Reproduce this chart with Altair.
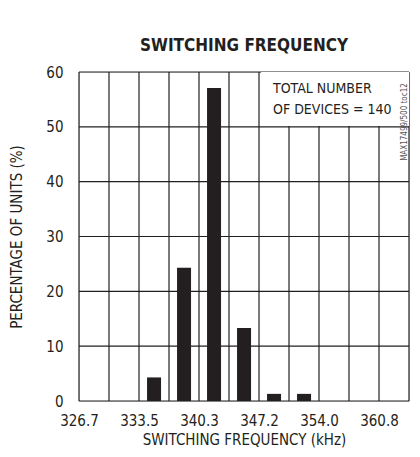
import altair as alt
import pandas as pd

# Data
bin_centers = [335.23, 338.64, 342.05, 345.46, 348.87, 352.28]
percentages = [4.3, 24.3, 57.1, 13.3, 1.3, 1.3]
x_grid = [326.7, 330.11, 333.52, 336.93, 340.34, 343.75, 347.16, 350.57,
          353.98, 357.39, 360.8, 364.21]
x_labels = [326.7, 333.52, 340.34, 347.16, 353.98, 360.8]
y_ticks = [0, 10, 20, 30, 40, 50, 60]
note_lines = ["TOTAL NUMBER", "OF DEVICES = 140"]
note_y = [56.9, 53.1]
note_x = [348.75, 348.75]
note_box_x = [347.4]
note_box_x2 = [364.21]
note_box_y = [50.15]
note_box_y2 = [60]

FONT = "DejaVu Sans Condensed, Liberation Sans Narrow, Liberation Sans, sans-serif"
INK = "#231f20"
W, H = 330, 329

bars_df = pd.DataFrame({"freq": bin_centers, "pct": percentages})
note_df = pd.DataFrame({"t": note_lines, "x": note_x, "y": note_y})
box_df = pd.DataFrame({"x": note_box_x, "x2": note_box_x2,
                       "y": note_box_y, "y2": note_box_y2})
xgrid_df = pd.DataFrame({"v": x_grid})
ygrid_df = pd.DataFrame({"v": y_ticks})

xscale = alt.Scale(domain=[x_grid[0], x_grid[-1]], nice=False, zero=False, padding=0)
yscale = alt.Scale(domain=[0, 60], nice=False, padding=0)

xaxis = alt.Axis(values=x_labels, grid=False, ticks=False, domain=False,
                 format=".1f",
                 labelFont=FONT, labelFontSize=15, labelColor=INK,
                 labelPadding=12, labelFlush=False, labelOverlap=False,
                 title="SWITCHING FREQUENCY (kHz)", titleFont=FONT,
                 titleFontSize=15, titleFontWeight="normal", titleColor=INK,
                 titleY=38, titleBaseline="middle")
yaxis = alt.Axis(values=y_ticks, grid=False, ticks=False, domain=False,
                 labelFont=FONT, labelFontSize=15, labelColor=INK,
                 labelPadding=16,
                 title="PERCENTAGE OF UNITS (%)", titleFont=FONT,
                 titleFontSize=15, titleFontWeight="normal", titleColor=INK,
                 titleX=-63, titleY=H / 2, titleBaseline="middle",
                 titleAlign="center", titleAngle=270)

xgrid = alt.Chart(xgrid_df).mark_rule(color=INK, strokeWidth=1.2).encode(
    x=alt.X("v:Q", scale=xscale, axis=xaxis)
)
ygrid = alt.Chart(ygrid_df).mark_rule(color=INK, strokeWidth=1.2).encode(
    y=alt.Y("v:Q", scale=yscale, axis=yaxis)
)

box = alt.Chart(box_df).mark_rect(color="white").encode(
    x=alt.X("x:Q", scale=xscale), x2="x2:Q",
    y=alt.Y("y:Q", scale=yscale), y2="y2:Q",
)

bars = alt.Chart(bars_df).mark_bar(size=14, color=INK).encode(
    x=alt.X("freq:Q", scale=xscale),
    y=alt.Y("pct:Q", scale=yscale),
)

note = alt.Chart(note_df).mark_text(
    align="left", baseline="middle", font=FONT, fontSize=14, color=INK
).encode(
    x=alt.X("x:Q", scale=xscale), y=alt.Y("y:Q", scale=yscale), text="t:N"
)

code_df = pd.DataFrame({"t": ["MAX17499/500 toc12"]})
code = alt.Chart(code_df).mark_text(
    angle=270, align="center", baseline="alphabetic", font=FONT,
    fontSize=8, color="#555555"
).encode(x=alt.value(W - 2.5), y=alt.value(50), text="t:N")

title_df = pd.DataFrame({"t": ["SWITCHING FREQUENCY"]})
title = alt.Chart(title_df).mark_text(
    align="center", baseline="middle", font=FONT, fontSize=17,
    fontWeight="bold", color=INK
).encode(x=alt.value(W / 2), y=alt.value(-26), text="t:N")

chart = alt.layer(xgrid, ygrid, box, bars, note, title, code).properties(
    width=W, height=H,
    autosize=alt.AutoSizeParams(type="none"),
    padding={"left": 71, "top": 64, "right": 3, "bottom": 48},
).configure_view(stroke=INK, strokeWidth=2.8).configure(background="white")

chart.save("out.html", embed_options={"renderer": "svg", "actions": False})
